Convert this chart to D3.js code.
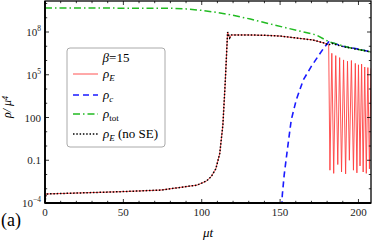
<!DOCTYPE html>
<html><head><meta charset="utf-8">
<script src="https://cdn.jsdelivr.net/npm/d3@7"></script>
<style>body{margin:0;background:#fff}svg{display:block}</style>
</head><body><svg id="c" width="374" height="241"></svg>
<script>
// ---- data ----
const tE = [0, 0.6, 48, 74, 97, 100, 103, 106, 109, 111.5, 113.5, 115, 116.5, 117.8, 119, 129, 140, 150, 171, 178, 181];
const rhoE = [1e-4, 4.3e-4, 6.2e-4, 8.1e-4, 1.8e-3, 2.5e-3, 3.5e-3, 7e-3, 0.025, 0.3, 30, 3e4, 1.0e8, 3.8e7, 6.2e7, 6.2e7, 5.9e7, 5.2e7, 2.75e7, 1.7e7, 1.23e7];
// oscillating tail of rho_E (troughs and peaks)
const tEosc = [181.8, 183, 184.2, 185.5, 186.8, 188, 189.2, 190.5, 191.8, 193, 194.2, 195.5, 196.8, 198, 199, 200, 201, 202, 203, 204, 205, 206, 207, 208];
const rhoEosc = [0.02, 3.2e6, 0.012, 2.2e6, 0.05, 1.6e6, 0.015, 1.1e6, 0.011, 8.9e5, 0.1, 1.0e6, 0.02, 6.3e5, 0.013, 5.0e5, 0.04, 5.6e5, 0.015, 3.5e5, 0.012, 3.2e5, 0.025, 2.8e5];
const tNoSEtail = [183, 190, 200, 208];
const rhoNoSEtail = [1.6e7, 9.5e6, 6.0e6, 4.0e6];
const tC = [150.8, 151.4, 152.6, 154.6, 157.1, 160.3, 164.8, 170, 174, 178, 181, 183, 190, 200, 208];
const rhoC = [1e-5, 3.6e-4, 9.1e-3, 0.52, 66, 1.7e3, 4.3e4, 4.0e5, 1.8e6, 7.9e6, 2.0e7, 1.8e7, 1.0e7, 6.3e6, 4.0e6];
const tTot = [0, 80, 90, 100, 107, 118, 131, 152, 173, 181, 194, 208];
const rhoTot = [4.8e9, 4.7e9, 4.2e9, 3.3e9, 2.6e9, 1.66e9, 8.1e8, 2.2e8, 6.2e7, 2.1e7, 8.1e6, 4.0e6];
const xTicks = [0, 50, 100, 150, 200];
const yTickExps = [-4, -1, 2, 5, 8];
const yTickLabels = ["10^-4", "0.1", "100", "10^5", "10^8"];

// ---- layout ----
const FONT = "Liberation Serif";
const svg = d3.select("#c");
const L = 45, R = 371, T = 1, B = 203;
const x = d3.scaleLinear().domain([0, 208]).range([L, R]);
const y = d3.scaleLog().domain([1e-4, 1.5e10]).range([B, T]);

svg.append("defs").append("clipPath").attr("id", "clip")
  .append("rect").attr("x", L).attr("y", T).attr("width", R - L).attr("height", B - T);

const line = d3.line().x(d => x(d[0])).y(d => y(d[1]));
const zip = (a, b) => a.map((v, i) => [v, b[i]]);
const g = svg.append("g").attr("clip-path", "url(#clip)");

const ePts = zip(tE, rhoE);
g.append("path").attr("d", line(ePts.concat(zip(tEosc, rhoEosc))))
  .attr("fill", "none").attr("stroke", "#ff4040").attr("stroke-width", 0.9);
g.append("path").attr("d", line(zip(tC, rhoC)))
  .attr("fill", "none").attr("stroke", "#1a1aff").attr("stroke-width", 1.6).attr("stroke-dasharray", "6,4");
g.append("path").attr("d", line(zip(tTot, rhoTot)))
  .attr("fill", "none").attr("stroke", "#22bb22").attr("stroke-width", 1.5).attr("stroke-dasharray", "7,3,1.5,3");
g.append("path").attr("d", line(ePts.concat(zip(tNoSEtail, rhoNoSEtail))))
  .attr("fill", "none").attr("stroke", "#000").attr("stroke-width", 1.5).attr("stroke-dasharray", "1.5,1.8");

// ---- frame & ticks ----
const ax = svg.append("g").attr("stroke", "#000");
ax.append("rect").attr("x", L).attr("y", T).attr("width", R - L).attr("height", B - T)
  .attr("fill", "none").attr("stroke-width", 1.3);
ax.append("line").attr("x1", L).attr("x2", L).attr("y1", T).attr("y2", B + 0.5).attr("stroke-width", 1.8);
ax.append("line").attr("x1", L).attr("x2", R).attr("y1", B).attr("y2", B).attr("stroke-width", 1.8);
for (let v = 0; v <= 208; v += 10) {
  const major = v % 50 === 0, len = major ? 4 : 2.2;
  ax.append("line").attr("x1", x(v)).attr("x2", x(v)).attr("y1", B).attr("y2", B - len).attr("stroke-width", 0.8);
  ax.append("line").attr("x1", x(v)).attr("x2", x(v)).attr("y1", T).attr("y2", T + len).attr("stroke-width", 0.8);
}
for (let e = -4; e <= 10; e++) {
  const major = yTickExps.includes(e), len = major ? 4 : 2.2;
  const yy = y(Math.pow(10, e));
  ax.append("line").attr("x1", L).attr("x2", L + len).attr("y1", yy).attr("y2", yy).attr("stroke-width", 0.8);
  ax.append("line").attr("x1", R).attr("x2", R - len).attr("y1", yy).attr("y2", yy).attr("stroke-width", 0.8);
}
// labels
const tl = svg.append("g").attr("font-size", 11).attr("fill", "#222");
xTicks.forEach(v => tl.append("text").attr("font-family", FONT).attr("x", x(v)).attr("y", B + 13).attr("text-anchor", "middle").text(v));
yTickExps.forEach((e, i) => {
  const lab = yTickLabels[i];
  const t = tl.append("text").attr("font-family", FONT).attr("x", 41).attr("y", y(Math.pow(10, e)) + 4).attr("text-anchor", "end");
  if (lab.startsWith("10^")) {
    t.append("tspan").text("10");
    t.append("tspan").attr("dy", -5).attr("font-size", 7.5).text(lab.slice(3).replace("-", "\u2212"));
  } else t.text(lab);
});
// axis titles
svg.append("text").attr("font-family", FONT).attr("x", 208).attr("y", 237).attr("text-anchor", "middle")
  .attr("font-size", 13).attr("font-style", "italic").text("\u03bct");
const yl = svg.append("text").attr("font-family", FONT).attr("transform", "translate(11,107) rotate(-90)").attr("text-anchor", "middle")
  .attr("font-size", 12).attr("font-style", "italic");
yl.append("tspan").text("\u03c1/ \u03bc");
yl.append("tspan").attr("dy", -3).attr("font-size", 8).text("4");
svg.append("text").attr("font-family", FONT).attr("x", 1).attr("y", 226).attr("font-size", 18).text("(a)");

// ---- legend ----
const lg = svg.append("g");
lg.append("rect").attr("x", 67).attr("y", 48).attr("width", 98).attr("height", 99).attr("rx", 3)
  .attr("fill", "#fff").attr("stroke", "#aaa").attr("stroke-width", 1);
const bt = lg.append("text").attr("font-family", FONT).attr("x", 116).attr("y", 62).attr("text-anchor", "middle").attr("font-size", 13);
bt.append("tspan").attr("font-style", "italic").text("\u03b2");
bt.append("tspan").text("=15");
const items = [
  {stroke: "#ff4040", dash: null, w: 0.9, sub: "E", subItalic: true, extra: ""},
  {stroke: "#1a1aff", dash: "6,4", w: 1.6, sub: "c", subItalic: true, extra: ""},
  {stroke: "#22bb22", dash: "7,3,1.5,3", w: 1.5, sub: "tot", subItalic: false, extra: ""},
  {stroke: "#000", dash: "1.5,1.8", w: 1.5, sub: "E", subItalic: true, extra: " (no SE)"}
];
const rowsY = [74, 95, 114, 134];
items.forEach((it, i) => {
  const yy = rowsY[i];
  const l = lg.append("line").attr("x1", 73).attr("x2", 98).attr("y1", yy).attr("y2", yy)
    .attr("stroke", it.stroke).attr("stroke-width", it.w);
  if (it.dash) l.attr("stroke-dasharray", it.dash);
  const t = lg.append("text").attr("font-family", FONT).attr("x", 103).attr("y", yy + 4).attr("font-size", 13);
  t.append("tspan").attr("font-style", "italic").text("\u03c1");
  t.append("tspan").attr("dy", 3).attr("font-size", 9).attr("font-style", it.subItalic ? "italic" : "normal").text(it.sub);
  if (it.extra) t.append("tspan").attr("dy", -3).text(it.extra);
});
</script></body></html>
